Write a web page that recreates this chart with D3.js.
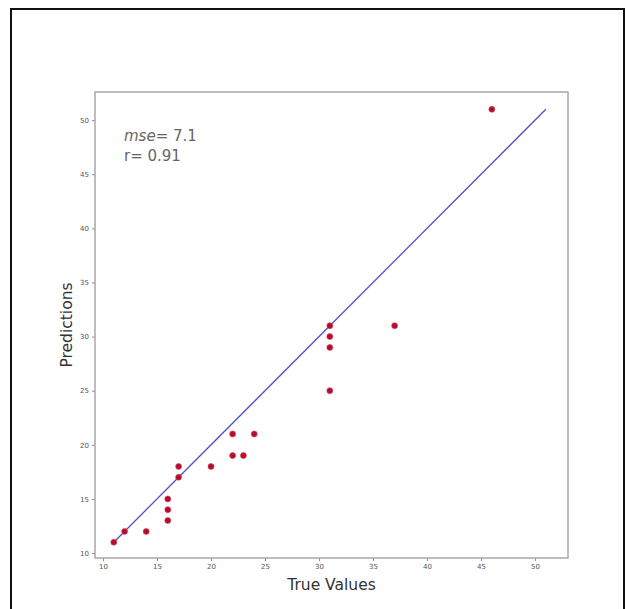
<!DOCTYPE html>
<html>
<head>
<meta charset="utf-8">
<script src="https://cdn.jsdelivr.net/npm/d3@7"></script>
<style>
  html, body { margin: 0; padding: 0; background: #fff; }
  svg { display: block; }
</style>
</head>
<body>
<svg id="chart" width="626" height="609"></svg>
<script>
// ---- data ----
const trueValues  = [11, 12, 14, 16, 16, 16, 17, 17, 20, 22, 22, 23, 24, 31, 31, 31, 31, 37, 46];
const predictions = [11, 12, 12, 15, 14, 13, 18, 17, 18, 21, 19, 19, 21, 31, 30, 29, 25, 31, 51];
const xTicks = [10, 15, 20, 25, 30, 35, 40, 45, 50];
const yTicks = [10, 15, 20, 25, 30, 35, 40, 45, 50];
const statLines = [{label: "mse", value: "7.1", italic: true}, {label: "r", value: "0.91", italic: false}];
const xLabel = "True Values";
const yLabel = "Predictions";

// ---- layout ----
const svg = d3.select("#chart");
const mLeft = 95, mRight = 568, mTop = 92, mBottom = 558;

// outer frame
svg.append("rect")
  .attr("x", 11).attr("y", 9).attr("width", 613).attr("height", 620)
  .attr("fill", "none").attr("stroke", "#111").attr("stroke-width", 2);

const x = d3.scaleLinear().domain([9.26, 53.05]).range([mLeft, mRight]);
const y = d3.scaleLinear().domain([9.54, 52.6]).range([mBottom, mTop]);

// axes
const xAxis = d3.axisBottom(x).tickValues(xTicks).tickSize(3).tickPadding(3);
const yAxis = d3.axisLeft(y).tickValues(yTicks).tickSize(3).tickPadding(3);

const gx = svg.append("g").attr("transform", `translate(0,${mBottom})`).call(xAxis);
const gy = svg.append("g").attr("transform", `translate(${mLeft},0)`).call(yAxis);
[gx, gy].forEach(g => {
  g.select(".domain").remove();
  g.selectAll(".tick line").attr("stroke", "#888");
  g.selectAll(".tick text").attr("fill", "#555").attr("font-size", 7)
    .attr("font-family", "DejaVu Sans, sans-serif");
});

// frame of axes
svg.append("rect")
  .attr("x", mLeft).attr("y", mTop)
  .attr("width", mRight - mLeft).attr("height", mBottom - mTop)
  .attr("fill", "none").attr("stroke", "#a8a8a8").attr("stroke-width", 1.5);

// identity line from min to max of all values
const all = trueValues.concat(predictions);
const [lo, hi] = d3.extent(all);
svg.append("path")
  .datum([[lo, lo], [hi, hi]])
  .attr("d", d3.line().x(d => x(d[0])).y(d => y(d[1])))
  .attr("stroke", "#5050c8").attr("stroke-width", 1.3).attr("fill", "none");

// points
svg.append("g").selectAll("circle")
  .data(trueValues.map((t, i) => [t, predictions[i]]))
  .join("circle")
  .attr("cx", d => x(d[0])).attr("cy", d => y(d[1]))
  .attr("r", 3)
  .attr("fill", "#b0102e").attr("stroke", "#e0405a").attr("stroke-width", 0.6);

// stats text
const st = svg.append("g").attr("font-family", "DejaVu Sans, sans-serif")
  .attr("font-size", 15).attr("fill", "#666");
statLines.forEach((s, i) => {
  const t = st.append("text").attr("x", 124).attr("y", 141 + i * 20);
  t.append("tspan").attr("font-style", s.italic ? "italic" : "normal").text(s.label);
  t.append("tspan").text("= " + s.value);
});

// axis labels
svg.append("text")
  .attr("x", (mLeft + mRight) / 2).attr("y", 590)
  .attr("text-anchor", "middle")
  .attr("font-family", "DejaVu Sans, sans-serif").attr("font-size", 15.5)
  .attr("fill", "#333").text(xLabel);

svg.append("text")
  .attr("transform", `translate(72,${(mTop + mBottom) / 2}) rotate(-90)`)
  .attr("text-anchor", "middle")
  .attr("font-family", "DejaVu Sans, sans-serif").attr("font-size", 15.5)
  .attr("fill", "#333").text(yLabel);
</script>
</body>
</html>
